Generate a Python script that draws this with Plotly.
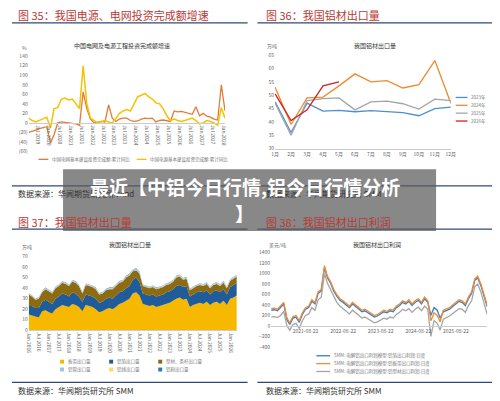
import pandas as pd
import plotly.graph_objects as go

# ---- 图35 数据 ----
grid_yoy = [-20, -18, -15, -12, -10, -8, -42, -25, 0, 2, 1, 0, -1, -2, -5, 65, 30, 8,
            0, 2, 3, 2, 38, 10, 3, 8, 10, 10, 5, 3, 4, 8, 10, 9, 10, 2, 5, 6,
            5, 3, 25, 23, 24, 22, 21, 18, 34, 15, 20, 14, 12, 8, 6, 80, 25]
power_yoy = [10, 5, 2, 5, 8, 12, -10, 30, 32, 50, 52, 48, 50, 40, 30, 120, 40, 10,
             5, 0, 3, 5, 2, 0, 10, 20, 25, 28, 25, 40, 55, 58, 62, 55, 50, 42, 40, 30,
             15, 5, 8, 5, 3, 5, 8, 10, 5, -2, 0, 5, 3, 0, -5, 32, 10]
dates35 = pd.date_range("2019-02", periods=len(grid_yoy), freq="2MS").strftime("%Y-%m").tolist()

# ---- 图36 数据 ----
months = ["1月", "2月", "3月", "4月", "5月", "6月", "7月", "8月", "9月", "10月", "11月", "12月"]
exp_2023 = [47.5, 36, 47, 44, 44.3, 43.8, 44.2, 43.8, 43.5, 42.3, 45, 45.5]
exp_2024 = [53, 39, 49, 49.3, 53.5, 58, 55, 55.5, 52.7, 54, 63, 47]
exp_2025 = [47, 35, 48, 48.7, 49, 44.5, 47.5, 47.8, 46.8, 44.8, 48.5, 48]
exp_2026 = [50.5, 40.5, 44.5, 53.5, 55]

# ---- 图37 数据 ----
plate = [15, 14, 13, 12, 18, 19, 17, 16, 20,
         22, 24, 23, 22, 25, 24, 22, 18, 24,
         23, 22, 20, 17, 18, 20, 21, 20, 22,
         25, 26, 28, 30, 35, 36, 33, 25, 24,
         23, 24, 22, 23, 24, 25, 26, 28, 30,
         31, 29, 30, 22, 24, 25, 26, 25, 27,
         24, 26, 27, 25, 28, 24, 30, 31, 33]
foil = [8, 9, 8, 9, 9, 10, 10, 9, 10,
        10, 11, 11, 10, 11, 11, 10, 9, 10,
        10, 10, 10, 9, 9, 10, 10, 10, 11,
        11, 11, 12, 12, 13, 14, 13, 10, 10,
        10, 10, 10, 10, 10, 11, 11, 11, 12,
        12, 12, 12, 10, 10, 11, 11, 11, 11,
        10, 11, 11, 11, 11, 10, 11, 12, 12]
profile = [11, 9, 8, 9, 9, 10, 10, 10, 10,
           10, 10, 10, 10, 10, 10, 10, 8, 9,
           9, 9, 9, 8, 8, 8, 8, 9, 9,
           9, 9, 10, 10, 8, 7, 8, 7, 7,
           7, 7, 7, 7, 7, 7, 7, 7, 8,
           8, 7, 7, 6, 6, 6, 6, 6, 6,
           6, 6, 6, 6, 6, 6, 6, 6, 6]
tube = [0.8, 0.8, 0.7, 0.8, 0.9, 0.9, 0.9, 0.8, 0.9,
        0.9, 1.0, 1.0, 0.9, 1.0, 1.0, 0.9, 0.8, 0.9,
        0.9, 0.9, 0.9, 0.8, 0.8, 0.9, 0.9, 0.9, 1.0,
        1.0, 1.0, 1.0, 1.1, 1.1, 1.1, 1.0, 0.9, 0.9,
        0.9, 0.9, 0.9, 0.9, 0.9, 1.0, 1.0, 1.0, 1.0,
        1.0, 1.0, 1.0, 0.9, 0.9, 0.9, 1.0, 1.0, 1.0,
        0.9, 1.0, 1.0, 1.0, 1.0, 0.9, 1.0, 1.0, 1.0]
wire = [0.3, 0.3, 0.3, 0.3, 0.3, 0.3, 0.3, 0.3, 0.3,
        0.3, 0.3, 0.4, 0.3, 0.3, 0.4, 0.3, 0.3, 0.3,
        0.3, 0.3, 0.3, 0.3, 0.3, 0.3, 0.3, 0.3, 0.4,
        0.4, 0.4, 0.4, 0.4, 0.4, 0.4, 0.4, 0.3, 0.3,
        0.3, 0.3, 0.3, 0.3, 0.3, 0.4, 0.4, 0.4, 0.4,
        0.4, 0.4, 0.4, 0.3, 0.3, 0.3, 0.4, 0.4, 0.4,
        0.3, 0.4, 0.4, 0.4, 0.4, 0.3, 0.4, 0.4, 0.4]
powder = [0.2, 0.2, 0.2, 0.2, 0.3, 0.3, 0.3, 0.2, 0.3,
          0.3, 0.3, 0.3, 0.3, 0.3, 0.3, 0.3, 0.2, 0.3,
          0.3, 0.3, 0.3, 0.2, 0.2, 0.3, 0.3, 0.3, 0.3,
          0.3, 0.3, 0.3, 0.3, 0.3, 0.3, 0.3, 0.3, 0.3,
          0.3, 0.3, 0.3, 0.3, 0.3, 0.3, 0.3, 0.3, 0.3,
          0.3, 0.3, 0.3, 0.3, 0.3, 0.3, 0.3, 0.3, 0.3,
          0.3, 0.3, 0.3, 0.3, 0.3, 0.3, 0.3, 0.3, 0.3]
dates37 = pd.date_range("2016-01", periods=len(plate), freq="2MS").strftime("%Y-%m").tolist()

# ---- 图38 数据 ----
profit_foil = [300, 310, 290, 350, 420,
               120, 30, 150, 170, 70, 220, 320, 350, 470, 420, 620, 670,
               1120, 920, 820, 670, 570, 490, 450, 390, 350, 420, 370, 320,
               270, 290, 250, 220, 170, 190, 230, 270, 250, 290, 270, 350,
               390, 450, 420, 470, 390, 450, 490, 420, 520, 450, 200, 350,
               300, 150, 270, 290, 320, 370, 420, 470, 450, 390, 520, 620,
               870, 920, 770, 570, 370]
profit_plate = [330, 340, 320, 380, 450,
                150, 60, 180, 200, 100, 250, 350, 380, 500, 450, 650, 700,
                1150, 950, 850, 700, 600, 520, 480, 420, 380, 450, 400, 350,
                300, 320, 280, 250, 200, 220, 260, 300, 280, 320, 300, 380,
                420, 480, 450, 500, 420, 480, 520, 450, 550, 480, 100, 250,
                200, 80, 300, 320, 350, 400, 450, 500, 480, 420, 550, 650,
                900, 950, 800, 600, 400]
profit_profile = [170, 180, 160, 200, 280,
                  0, -80, 30, 50, -50, 100, 200, 230, 350, 300, 500, 550,
                  1000, 820, 700, 560, 450, 380, 330, 270, 230, 300, 250, 200,
                  150, 170, 130, 100, 60, 80, 110, 150, 130, 170, 150, 220,
                  260, 320, 290, 330, 260, 320, 360, 290, 380, 320, -200, 100,
                  50, -80, 130, 160, 190, 240, 290, 330, 320, 260, 390, 480,
                  750, 800, 650, 450, 220]
dates38 = pd.date_range("2020-08-22", periods=len(profit_plate), freq="MS") + pd.Timedelta(days=21)
tick38 = ["2020-08-22", "2021-08-22", "2022-08-22", "2023-08-22", "2024-08-22", "2025-08-22"]

FONT = "Noto Sans CJK SC"
RED = "#b83a33"
NAVY = "#2f4a7a"
TICK = dict(size=5, color="#666")
LEG = "#777"

# 页面自带 8px 边距，图放在 (8,8)，坐标按窗口像素换算
W, H, OFF = 492, 393, 8


def px(x):
    return (x - OFF) / W


def py(y):
    return 1 - (y - OFF) / H


fig = go.Figure()

c35 = [("中国电网基本建设投资完成额:累计同比", "#e07b39", grid_yoy, 1.3),
       ("中国电源基本建设投资完成额:累计同比", "#f5c200", power_yoy, 1.5)]
for nm, c, vals, w in c35:
    fig.add_trace(go.Scatter(x=dates35, y=vals, mode="lines", line=dict(color=c, width=w),
                             name=nm, xaxis="x", yaxis="y"))

c36 = [("2023年", "#4a90d0", exp_2023), ("2024年", "#ef8a2f", exp_2024),
       ("2025年", "#a5a5a5", exp_2025), ("2026年", "#d62020", exp_2026)]
for nm, c, vals in c36:
    fig.add_trace(go.Scatter(x=months[:len(vals)], y=vals, mode="lines", line=dict(color=c, width=1.3),
                             name=nm, xaxis="x2", yaxis="y2"))

c37 = [("板带出口量", "#f7b800", plate), ("铝箔出口量", "#1f5c99", foil),
       ("型材、条杆出口量", "#8f6b10", profile), ("铝管出口量", "#9dc3e6", tube),
       ("铝线出口量", "#ffd966", wire), ("铝粉出口量", "#2e75b6", powder)]
for nm, c, vals in c37:
    fig.add_trace(go.Scatter(x=dates37, y=vals, mode="lines", stackgroup="one", line=dict(width=0),
                             fillcolor=c, name=nm, xaxis="x3", yaxis="y3"))

c38 = [("SMM: 电解铝出口利润模型:铝箔出口利润:日度", "#3a7dc9", profit_foil),
       ("SMM: 电解铝出口利润模型:铝板带出口利润:日度", "#ef8a2f", profit_plate),
       ("SMM: 电解铝出口利润模型:铝型材出口利润:日度", "#a5a5a5", profit_profile)]
for nm, c, vals in c38:
    fig.add_trace(go.Scatter(x=dates38, y=vals, mode="lines", line=dict(color=c, width=1.3),
                             name=nm, xaxis="x4", yaxis="y4"))

d35 = [py(150), py(53)]
d38 = [py(349), py(253)]
ax = dict(showgrid=False, tickfont=TICK, ticks="", zeroline=False)

fig.update_layout(
    width=W, height=H, margin=dict(l=0, r=0, t=0, b=0), showlegend=False,
    paper_bgcolor="white", plot_bgcolor="white", font=dict(family=FONT),
    xaxis=dict(**ax, domain=[px(25), px(225)], anchor="free", position=d35[0] + 0.3 * (d35[1] - d35[0]),
               tickangle=90, showline=True, linecolor="#ccc", nticks=20),
    yaxis=dict(**ax, domain=d35, range=[-60, 140], anchor="x",
               tickvals=list(range(-60, 141, 20)),
               ticktext=["(60)", "(40)", "(20)", "0", "20", "40", "60", "80", "100", "120", "140"]),
    xaxis2=dict(**ax, domain=[px(276), px(455)], anchor="y2", showline=True, linecolor="#ccc"),
    yaxis2=dict(**ax, domain=[py(147), py(52)], range=[30, 65], dtick=5, anchor="x2"),
    xaxis3=dict(**ax, domain=[px(25), px(237)], anchor="y3", tickangle=90, nticks=22, showline=True,
                linecolor="#ccc", range=[dates37[0], dates37[-1]]),
    yaxis3=dict(**ax, domain=[py(332), py(257)], range=[0, 70], dtick=10, anchor="x3"),
    xaxis4=dict(**ax, domain=[px(272), px(492)], anchor="free", position=d38[0] + (400 / 1800) * (d38[1] - d38[0]),
                tickvals=pd.to_datetime(tick38), ticktext=tick38, showline=True, linecolor="#ccc"),
    yaxis4=dict(**ax, domain=d38, range=[-400, 1400], dtick=200, anchor="x4"),
)


def text(x, y, t, s, c, a="left"):
    fig.add_annotation(x=px(x), y=py(y), xref="paper", yref="paper", text=t, showarrow=False,
                       xanchor=a, yanchor="middle", font=dict(size=s, color=c, family=FONT))


def hline(x0, x1, y, c, w):
    fig.add_shape(type="line", xref="paper", yref="paper", x0=px(x0), x1=px(x1), y0=py(y), y1=py(y),
                  line=dict(color=c, width=w))


def box(x, y, c):
    fig.add_shape(type="rect", xref="paper", yref="paper", x0=px(x), x1=px(x + 4),
                  y0=py(y + 2), y1=py(y - 2), fillcolor=c, line=dict(width=0))


# 手工图例
for i, (nm, c, _, w) in enumerate(c35):
    x = 35 + i * 100
    hline(x, x + 10, 158, c, 1.3)
    text(x + 12, 158, nm, 4.5, LEG)
for i, (nm, c, _) in enumerate(c36):
    y = 95 + i * 8
    hline(460, 472, y, c, 1.3)
    text(474, y, nm, 4.5, LEG)
for i, (nm, c, _) in enumerate(c37):
    x = 57 + (i % 3) * 50
    y = 364 + (i // 3) * 8
    box(x, y, c)
    text(x + 6, y, nm, 4.5, LEG)
for i, (nm, c, _) in enumerate(c38):
    y = 358 + i * 8
    hline(318, 332, y, c, 1.3)
    text(334, y, nm, 4.5, LEG)

anns = [
    (12, 11, "图 35：我国电源、电网投资完成额增速", 11, RED, "left"),
    (265, 11, "图 36：我国铝材出口量", 11, RED, "left"),
    (12, 222, "图 37：我国铝材出口量", 11, RED, "left"),
    (265, 222, "图 38：我国铝材出口利润", 11, RED, "left"),
    (120, 42, "中国电网及电源工程投资完成额增速", 6, "#333", "center"),
    (378, 42, "我国铝材出口量", 6, "#333", "center"),
    (128, 245, "我国铝材出口量", 6, "#333", "center"),
    (380, 245, "我国铝材出口利润", 6, "#333", "center"),
    (16, 44, "%", 5, "#666", "left"),
    (266, 43, "万吨", 5, "#666", "left"),
    (16, 247, "万吨", 5, "#666", "left"),
    (268, 245, "美元/吨", 5, "#666", "left"),
    (12, 193, "数据来源：华闻期货研究所 wind", 8, "#333", "left"),
    (265, 193, "数据来源：华闻期货研究所 SMM", 8, "#333", "left"),
    (12, 393, "数据来源：华闻期货研究所 SMM", 8, "#333", "left"),
    (265, 393, "数据来源：华闻期货研究所 SMM", 8, "#333", "left"),
]
for a in anns:
    text(*a)

for y in [19, 185, 229, 385]:
    hline(8, 248, y, NAVY, 1.2)
    hline(258, 497, y, NAVY, 1.2)

# 覆盖标题横幅
fig.add_shape(type="rect", xref="paper", yref="paper", x0=px(60), x1=px(440), y0=py(231), y1=py(168),
              fillcolor="rgba(90,90,90,0.72)", line=dict(width=0), layer="above")
text(245, 186, "<b>最近【中铝今日行情,铝今日行情分析</b>", 19, "white", "center")
text(245, 213, "<b>】</b>", 19, "white", "center")

fig.write_html("out.html")
